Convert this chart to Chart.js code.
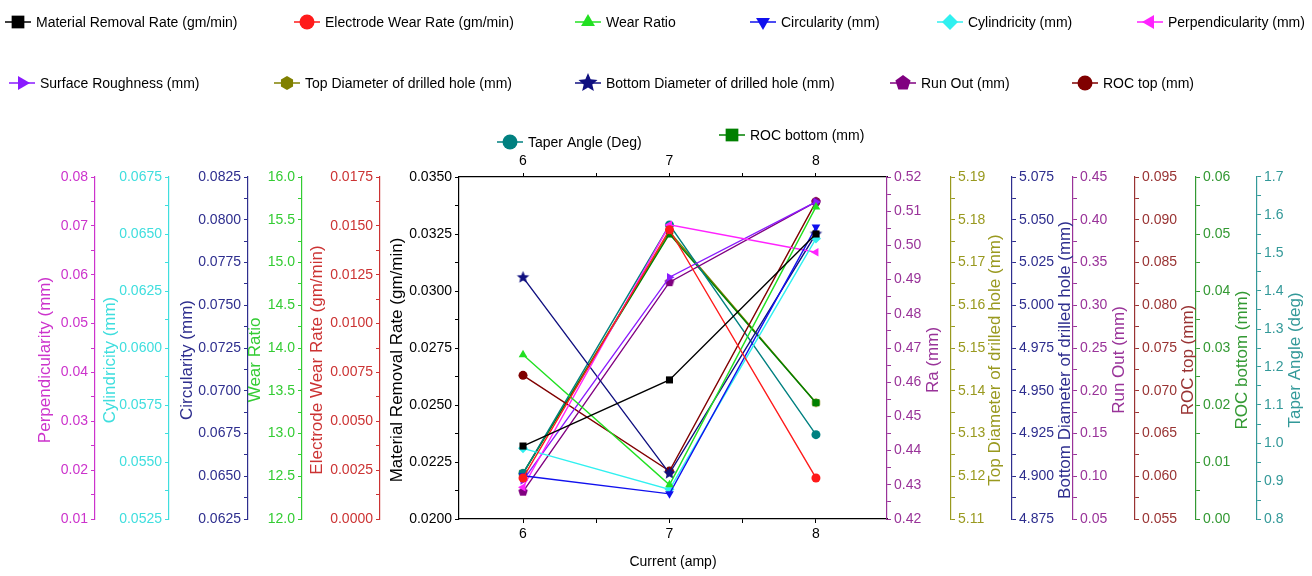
<!DOCTYPE html>
<html>
<head>
<meta charset="utf-8">
<script src="https://cdn.jsdelivr.net/npm/chart.js@4.4.0/dist/chart.umd.min.js"></script>
<style>
  html, body { margin: 0; padding: 0; background: #fff; }
  #wrap { width: 1312px; height: 576px; }
</style>
</head>
<body>
<div id="wrap"><canvas id="chart"></canvas></div>
<script>
// current (amp) on the x axis
var current = [6, 7, 8];
var currentTicks = [6, 6.5, 7, 7.5, 8];

// responses, each in the units of its own axis
var mrr = [0.0232, 0.0261, 0.0325];
var ewr = [0.0021, 0.0148, 0.0021];
var wearRatio = [13.92, 12.40, 15.65];
var circularity = [0.06503, 0.06397, 0.07957];
var cylindricity = [0.0556, 0.0538, 0.0648];
var perpendicularity = [0.0165, 0.0702, 0.0646];
var roughness = [0.4313, 0.4907, 0.5127];
var topDia = [5.1207, 5.1772, 5.1372];
var bottomDia = [5.0163, 4.9017, 5.0417];
var runOut = [0.082, 0.327, 0.421];
var rocTop = [0.0718, 0.0606, 0.0921];
var taper = [0.92, 1.574, 1.022];
var rocBottom = [0.008, 0.050, 0.0204];

var seriesNames = ['Material Removal Rate (gm/min)', 'Electrode Wear Rate (gm/min)', 'Wear Ratio',
  'Circularity (mm)', 'Cylindricity (mm)', 'Perpendicularity (mm)', 'Surface Roughness (mm)',
  'Top Diameter of drilled hole (mm)', 'Bottom Diameter of drilled hole (mm)', 'Run Out (mm)',
  'ROC top (mm)', 'Taper Angle (Deg)', 'ROC bottom (mm)'];

// axis tick labels / ranges
var axisTitles = ['Material Removal Rate (gm/min)', 'Electrode Wear Rate (gm/min)', 'Wear Ratio',
  'Circularity (mm)', 'Cylindricity (mm)', 'Perpendicularity (mm)', 'Ra (mm)',
  'Top Diameter of drilled hole (mm)', 'Bottom Diameter of drilled hole (mm)', 'Run Out (mm)',
  'ROC top (mm)', 'Taper Angle (deg)', 'ROC bottom (mm)'];
var axisMin = [0.020, 0, 12, 0.0625, 0.0525, 0.01, 0.42, 5.11, 4.875, 0.05, 0.055, 0.8, 0];
var axisMax = [0.035, 0.0175, 16, 0.0825, 0.0675, 0.08, 0.52, 5.19, 5.075, 0.45, 0.095, 1.7, 0.06];
var axisStep = [0.0025, 0.0025, 0.5, 0.0025, 0.0025, 0.01, 0.01, 0.01, 0.025, 0.05, 0.005, 0.1, 0.01];
var axisDecimals = [4, 4, 1, 4, 4, 2, 2, 2, 3, 2, 3, 1, 2];

var allSeries = [mrr, ewr, wearRatio, circularity, cylindricity, perpendicularity, roughness,
  topDia, bottomDia, runOut, rocTop, taper, rocBottom];

// styling
var lineColors = ['#000000', '#ff1a1a', '#22e022', '#1010ee', '#30f0f0', '#ff22ff', '#8a1aff',
  '#808000', '#101080', '#800080', '#800000', '#008080', '#008000'];
var axisColors = ['#000000', '#cc3333', '#33cc33', '#2e2e8e', '#3fdede', '#cc33cc', '#993399',
  '#99991f', '#2e2e8e', '#993399', '#993333', '#339999', '#339933'];
var axisSide = ['left', 'left', 'left', 'left', 'left', 'left', 'right', 'right', 'right', 'right', 'right', 'right', 'right'];
var axisWeight = [1, 2, 3, 4, 5, 6, 1, 2, 3, 4, 5, 7, 6];
var axisWidth = [79, 78, 54, 79, 74, 60, 64, 61, 61, 62, 61, 55, 61];
var titleGap = [62, 63, 47, 61, 59, 50, 46, 44, 53, 46, 53, 38, 46];
var drawOrder = [0, 0, 0, 0, 0, 0, 0, 20, 0, 0, 0, 0, 0];
var legendSlots = [[18, 22], [307, 22], [588, 22], [763, 22], [950, 22], [1150, 22],
  [22, 83], [287, 83], [588, 83], [903, 83], [1085, 83], [510, 142], [732, 135]];

var FONT = '"Liberation Sans", Arial, sans-serif';

function polyMarker(sides, color, r, star) {
  var c = document.createElement('canvas');
  c.width = c.height = Math.ceil(r * 2 + 2);
  var g = c.getContext('2d');
  g.fillStyle = color;
  g.beginPath();
  var n = star ? sides * 2 : sides;
  for (var k = 0; k < n; k++) {
    var rr = (star && k % 2) ? r * 0.45 : r;
    var a = -Math.PI / 2 + k * Math.PI * 2 / n;
    var px = c.width / 2 + rr * Math.cos(a), py = c.height / 2 + rr * Math.sin(a);
    if (k) g.lineTo(px, py); else g.moveTo(px, py);
  }
  g.closePath();
  g.fill();
  return c;
}

function markerStyle(i, big) {
  var r = big ? 8 : 5;
  switch (i) {
    case 0: case 12: return { style: 'rect', rot: 0, r: big ? 9 : 5 };
    case 2: return { style: 'triangle', rot: 0, r: r };
    case 3: return { style: 'triangle', rot: 180, r: r };
    case 4: return { style: 'rectRot', rot: 0, r: r };
    case 5: return { style: 'triangle', rot: -90, r: r };
    case 6: return { style: 'triangle', rot: 90, r: r };
    case 7: return { style: polyMarker(6, lineColors[i], big ? 7 : 4.5), rot: 0, r: r };
    case 8: return { style: polyMarker(5, lineColors[i], big ? 10 : 6.5, true), rot: 0, r: r };
    case 9: return { style: polyMarker(5, lineColors[i], big ? 8 : 5), rot: 0, r: r };
    default: return { style: 'circle', rot: 0, r: big ? 7.5 : 4.5 };
  }
}

var datasets = allSeries.map(function (arr, i) {
  var m = markerStyle(i, false);
  return {
    label: seriesNames[i],
    data: current.map(function (c, j) { return { x: c, y: arr[j] }; }),
    yAxisID: 'y' + i,
    order: drawOrder[i],
    borderColor: lineColors[i],
    backgroundColor: lineColors[i],
    borderWidth: 1.4,
    pointStyle: m.style,
    rotation: m.rot,
    pointRadius: m.r,
    pointBorderWidth: 0,
    tension: 0
  };
});

function xAxis(pos) {
  return {
    type: 'linear', position: pos, min: 5.563, max: 8.485,
    afterBuildTicks: function (s) { s.ticks = currentTicks.map(function (v) { return { value: v }; }); },
    afterFit: function (s) { s.height = pos === 'top' ? 27 : 52; },
    ticks: {
      color: '#000', font: { family: FONT, size: 14 }, padding: 3, autoSkip: false, maxRotation: 0,
      callback: function (v) { return v % 1 === 0 ? String(v) : ''; }
    },
    grid: { display: true, drawOnChartArea: false, tickLength: 4, color: '#000' },
    border: { display: true, color: '#000', width: 1.2 },
    title: pos === 'top' ? { display: false } :
      { display: true, text: 'Current (amp)', color: '#000', font: { family: FONT, size: 14 }, padding: { top: 0, bottom: 0 } }
  };
}

var scales = { x: xAxis('bottom'), xTop: xAxis('top') };
allSeries.forEach(function (arr, i) {
  scales['y' + i] = {
    type: 'linear', position: axisSide[i], weight: axisWeight[i],
    min: axisMin[i], max: axisMax[i],
    afterBuildTicks: function (s) {
      var n = Math.round((axisMax[i] - axisMin[i]) / (axisStep[i] / 2));
      var t = [];
      for (var k = 0; k <= n; k++) t.push({ value: axisMin[i] + k * axisStep[i] / 2 });
      s.ticks = t;
    },
    afterFit: function (s) { s.width = axisWidth[i]; },
    ticks: {
      color: axisColors[i], font: { family: FONT, size: 14 }, padding: 3, autoSkip: false,
      callback: function (v, idx) { return idx % 2 === 0 ? v.toFixed(axisDecimals[i]) : ''; }
    },
    grid: { display: true, drawOnChartArea: false, tickLength: 4, color: axisColors[i] },
    border: { display: true, color: axisColors[i], width: 1.2 },
    title: { display: false }
  };
});

// axis titles (read bottom-to-top on both sides) and the legend block on top
var extrasPlugin = {
  id: 'extras',
  afterDraw: function (chart) {
    var ctx = chart.ctx;
    ctx.save();
    ctx.textAlign = 'center';
    ctx.textBaseline = 'middle';
    ctx.font = '17px ' + FONT;
    allSeries.forEach(function (arr, i) {
      var s = chart.scales['y' + i];
      var axisX = axisSide[i] === 'left' ? s.right : s.left;
      var tx = axisSide[i] === 'left' ? axisX - titleGap[i] : axisX + titleGap[i];
      ctx.save();
      ctx.translate(tx, (s.top + s.bottom) / 2 + 12);
      ctx.rotate(-Math.PI / 2);
      ctx.fillStyle = axisColors[i];
      ctx.fillText(axisTitles[i], 0, 0);
      ctx.restore();
    });

    ctx.font = '14px ' + FONT;
    ctx.textAlign = 'left';
    legendSlots.forEach(function (p, i) {
      var x = p[0], y = p[1];
      ctx.strokeStyle = lineColors[i];
      ctx.lineWidth = 1.5;
      ctx.beginPath();
      ctx.moveTo(x - 13, y);
      ctx.lineTo(x + 13, y);
      ctx.stroke();
      var m = markerStyle(i, true);
      ctx.fillStyle = lineColors[i];
      Chart.helpers.drawPoint(ctx, { pointStyle: m.style, rotation: m.rot, radius: m.r, borderWidth: 0 }, x, y);
      ctx.fillStyle = '#000';
      ctx.fillText(seriesNames[i], x + 18, y + 1);
    });
    ctx.restore();
  }
};

new Chart(document.getElementById('chart'), {
  type: 'line',
  data: { datasets: datasets },
  options: {
    responsive: true,
    maintainAspectRatio: false,
    animation: false,
    layout: { padding: { top: 150, left: 35, right: 0, bottom: 5 } },
    plugins: { legend: { display: false }, tooltip: { enabled: false } },
    scales: scales
  },
  plugins: [extrasPlugin]
});
</script>
</body>
</html>
